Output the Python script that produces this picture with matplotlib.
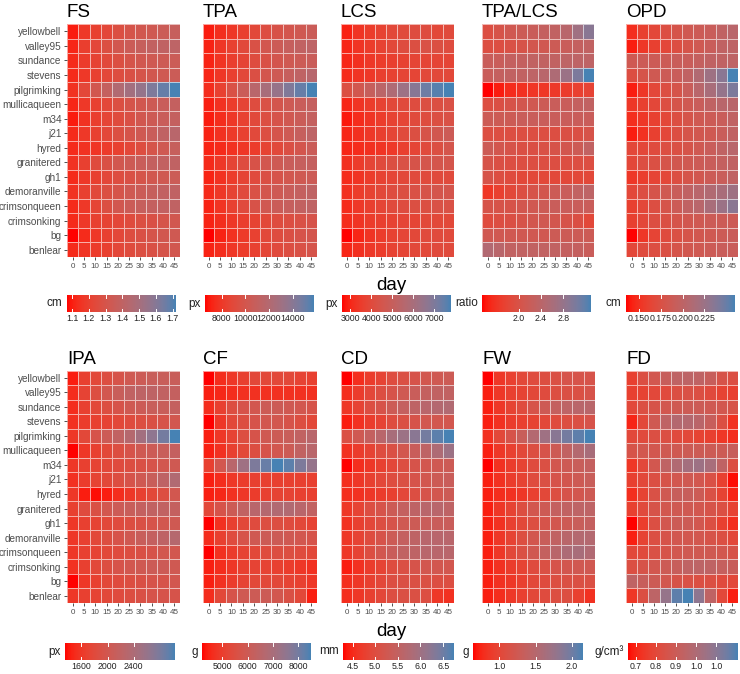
import numpy as np
import matplotlib
matplotlib.use("Agg")
import matplotlib.pyplot as plt
from matplotlib.colors import ListedColormap, Normalize

plt.rcParams["font.family"] = ["Liberation Sans", "DejaVu Sans"]

cultivars = ["yellowbell", "valley95", "sundance", "stevens", "pilgrimking", "mullicaqueen",
             "m34", "j21", "hyred", "granitered", "gh1", "demoranville", "crimsonqueen",
             "crimsonking", "bg", "benlear"]
days = [0, 5, 10, 15, 20, 25, 30, 35, 40, 45]

# rows follow `cultivars`, columns follow `days`
fs = [
    [1.10, 1.17, 1.20, 1.23, 1.27, 1.30, 1.32, 1.33, 1.35, 1.37],
    [1.12, 1.19, 1.23, 1.27, 1.32, 1.35, 1.37, 1.39, 1.40, 1.41],
    [1.13, 1.18, 1.21, 1.24, 1.27, 1.30, 1.32, 1.33, 1.34, 1.35],
    [1.13, 1.17, 1.20, 1.23, 1.26, 1.28, 1.30, 1.32, 1.33, 1.35],
    [1.15, 1.23, 1.32, 1.38, 1.46, 1.51, 1.56, 1.62, 1.67, 1.72],
    [1.12, 1.17, 1.20, 1.23, 1.27, 1.30, 1.32, 1.34, 1.36, 1.38],
    [1.10, 1.15, 1.19, 1.22, 1.25, 1.28, 1.32, 1.34, 1.36, 1.38],
    [1.13, 1.17, 1.20, 1.23, 1.27, 1.30, 1.33, 1.36, 1.40, 1.43],
    [1.13, 1.15, 1.16, 1.18, 1.20, 1.23, 1.26, 1.30, 1.33, 1.37],
    [1.15, 1.20, 1.25, 1.28, 1.32, 1.34, 1.36, 1.38, 1.39, 1.40],
    [1.13, 1.17, 1.20, 1.23, 1.26, 1.28, 1.30, 1.32, 1.33, 1.35],
    [1.15, 1.20, 1.24, 1.27, 1.30, 1.33, 1.35, 1.37, 1.39, 1.40],
    [1.13, 1.17, 1.22, 1.27, 1.32, 1.35, 1.37, 1.38, 1.39, 1.40],
    [1.13, 1.17, 1.20, 1.21, 1.23, 1.25, 1.27, 1.28, 1.30, 1.32],
    [1.07, 1.13, 1.17, 1.20, 1.23, 1.26, 1.28, 1.30, 1.32, 1.33],
    [1.13, 1.16, 1.18, 1.20, 1.23, 1.25, 1.27, 1.28, 1.30, 1.32],
]
tpa = [
    [7000, 7600, 8000, 8400, 8900, 9300, 9700, 10000, 10300, 10600],
    [7200, 7900, 8500, 9000, 9600, 10100, 10500, 10900, 11200, 11400],
    [7200, 7800, 8300, 8700, 9200, 9600, 10000, 10300, 10500, 10700],
    [7300, 7900, 8400, 8900, 9500, 10000, 10400, 10900, 11300, 11800],
    [7500, 8500, 9600, 10600, 11700, 12600, 13400, 14300, 15100, 15800],
    [7100, 7700, 8200, 8700, 9200, 9600, 10000, 10400, 10700, 11000],
    [7000, 7500, 8000, 8500, 9000, 9400, 9800, 10200, 10600, 11000],
    [7200, 7700, 8100, 8500, 9000, 9400, 9900, 10400, 10900, 11400],
    [7200, 7400, 7700, 7900, 8200, 8600, 9000, 9500, 10000, 10600],
    [7400, 8000, 8700, 9200, 9700, 10100, 10400, 10700, 10900, 11000],
    [7200, 7700, 8200, 8700, 9100, 9500, 9800, 10100, 10300, 10500],
    [7400, 8000, 8600, 9100, 9600, 10000, 10400, 10700, 11000, 11300],
    [7200, 7800, 8500, 9100, 9700, 10200, 10600, 10900, 11100, 11300],
    [7200, 7600, 8000, 8300, 8600, 8900, 9200, 9400, 9600, 9800],
    [6600, 7200, 7700, 8100, 8500, 8900, 9200, 9500, 9800, 10000],
    [7200, 7500, 7900, 8200, 8500, 8800, 9100, 9400, 9600, 9900],
]
lcs = [
    [2900, 3300, 3500, 3700, 3900, 4000, 4100, 4100, 3900, 4000],
    [3000, 3300, 3500, 3700, 3900, 4100, 4200, 4300, 4200, 4100],
    [3000, 3200, 3400, 3500, 3600, 3700, 3800, 3800, 3800, 3800],
    [3100, 3300, 3400, 3600, 3700, 3800, 3800, 3900, 3900, 3900],
    [4200, 4600, 5000, 5400, 5800, 6300, 6800, 7300, 7600, 7800],
    [3000, 3300, 3500, 3700, 3900, 4000, 4100, 4200, 4200, 4300],
    [2800, 3100, 3300, 3500, 3700, 3800, 4000, 4100, 4200, 4300],
    [3000, 3200, 3400, 3600, 3800, 4000, 4200, 4400, 4600, 4800],
    [3000, 3100, 3200, 3300, 3400, 3600, 3800, 4000, 4200, 4500],
    [3200, 3500, 3800, 4000, 4200, 4300, 4400, 4500, 4500, 4500],
    [3100, 3300, 3500, 3700, 3800, 3900, 4000, 4000, 4000, 4000],
    [3200, 3500, 3700, 3900, 4100, 4200, 4300, 4400, 4500, 4500],
    [3100, 3400, 3600, 3800, 4000, 4100, 4200, 4200, 4300, 4300],
    [3100, 3300, 3500, 3600, 3700, 3800, 3800, 3900, 3900, 3900],
    [2600, 3000, 3300, 3500, 3700, 3800, 3900, 4000, 4000, 4000],
    [3000, 3200, 3400, 3500, 3700, 3800, 3900, 3900, 4000, 4000],
]
tpa_lcs = [
    [1.93, 2.02, 2.12, 2.16, 2.22, 2.28, 2.32, 2.42, 2.71, 2.91],
    [1.93, 1.93, 1.98, 2.02, 2.08, 2.12, 2.16, 2.22, 2.28, 2.32],
    [2.22, 2.22, 2.28, 2.28, 2.32, 2.32, 2.32, 2.36, 2.36, 2.36],
    [2.22, 2.28, 2.32, 2.32, 2.36, 2.42, 2.55, 2.75, 3.01, 3.30],
    [1.34, 1.43, 1.53, 1.57, 1.61, 1.63, 1.65, 1.69, 1.73, 1.77],
    [1.93, 1.96, 2.02, 2.08, 2.12, 2.16, 2.22, 2.22, 2.28, 2.32],
    [2.16, 2.16, 2.16, 2.22, 2.22, 2.22, 2.22, 2.22, 2.22, 2.22],
    [1.93, 1.93, 1.93, 1.93, 1.93, 1.93, 1.93, 1.96, 1.96, 2.02],
    [2.16, 2.08, 2.02, 1.96, 1.96, 1.98, 2.02, 2.08, 2.16, 2.32],
    [2.02, 1.96, 1.93, 1.93, 1.93, 1.93, 1.93, 1.93, 1.93, 1.93],
    [2.02, 1.93, 1.89, 1.83, 1.83, 1.83, 1.83, 1.83, 1.83, 1.83],
    [1.63, 1.73, 1.83, 1.93, 2.02, 2.08, 2.16, 2.22, 2.32, 2.36],
    [2.02, 2.02, 2.02, 2.08, 2.12, 2.16, 2.22, 2.22, 2.22, 2.22],
    [1.89, 1.93, 1.96, 2.02, 2.08, 2.12, 2.08, 2.02, 1.96, 1.83],
    [2.12, 2.12, 2.12, 2.12, 2.12, 2.12, 2.16, 2.16, 2.16, 2.16],
    [2.51, 2.42, 2.32, 2.32, 2.32, 2.32, 2.32, 2.28, 2.28, 2.22],
]
opd = [
    [0.148, 0.160, 0.166, 0.173, 0.179, 0.185, 0.188, 0.191, 0.198, 0.204],
    [0.141, 0.154, 0.160, 0.166, 0.173, 0.179, 0.185, 0.191, 0.198, 0.200],
    [0.185, 0.188, 0.188, 0.188, 0.191, 0.191, 0.195, 0.198, 0.198, 0.200],
    [0.173, 0.179, 0.185, 0.188, 0.191, 0.198, 0.210, 0.223, 0.235, 0.260],
    [0.141, 0.154, 0.166, 0.173, 0.179, 0.191, 0.204, 0.216, 0.229, 0.241],
    [0.154, 0.160, 0.166, 0.173, 0.179, 0.185, 0.191, 0.198, 0.204, 0.204],
    [0.148, 0.154, 0.160, 0.166, 0.173, 0.179, 0.185, 0.188, 0.191, 0.198],
    [0.141, 0.150, 0.160, 0.166, 0.173, 0.179, 0.183, 0.185, 0.191, 0.198],
    [0.166, 0.166, 0.170, 0.173, 0.175, 0.179, 0.185, 0.191, 0.198, 0.204],
    [0.166, 0.173, 0.175, 0.179, 0.183, 0.185, 0.188, 0.191, 0.195, 0.198],
    [0.154, 0.158, 0.163, 0.166, 0.173, 0.179, 0.183, 0.188, 0.191, 0.198],
    [0.166, 0.173, 0.179, 0.185, 0.191, 0.198, 0.204, 0.210, 0.216, 0.223],
    [0.160, 0.166, 0.173, 0.179, 0.188, 0.198, 0.204, 0.216, 0.225, 0.235],
    [0.160, 0.166, 0.173, 0.175, 0.179, 0.183, 0.185, 0.188, 0.188, 0.188],
    [0.135, 0.154, 0.163, 0.170, 0.175, 0.179, 0.183, 0.185, 0.188, 0.191],
    [0.166, 0.170, 0.173, 0.175, 0.179, 0.183, 0.185, 0.188, 0.191, 0.191],
]
ipa = [
    [1430, 1690, 1770, 1850, 1940, 2020, 2060, 2110, 2110, 2110],
    [1520, 1720, 1850, 1990, 2110, 2190, 2220, 2220, 2190, 2160],
    [1520, 1690, 1770, 1850, 1940, 2020, 2060, 2110, 2110, 2160],
    [1550, 1650, 1690, 1720, 1770, 1820, 1850, 1890, 1940, 1990],
    [1600, 1770, 1940, 2060, 2190, 2320, 2490, 2660, 2830, 3030],
    [1350, 1600, 1690, 1770, 1850, 1940, 2020, 2060, 2110, 2160],
    [1600, 1690, 1720, 1770, 1820, 1850, 1890, 1940, 1990, 2020],
    [1550, 1650, 1720, 1770, 1850, 1940, 2020, 2110, 2220, 2360],
    [1600, 1430, 1380, 1430, 1520, 1600, 1690, 1770, 1850, 1990],
    [1690, 1820, 1890, 1990, 2060, 2110, 2160, 2190, 2190, 2160],
    [1600, 1690, 1720, 1770, 1820, 1850, 1890, 1940, 1990, 2020],
    [1600, 1690, 1770, 1850, 1940, 2020, 2110, 2160, 2220, 2320],
    [1600, 1690, 1720, 1770, 1820, 1850, 1890, 1940, 1990, 1990],
    [1550, 1690, 1770, 1850, 1940, 1990, 2020, 2060, 2060, 2020],
    [1350, 1600, 1690, 1770, 1820, 1850, 1890, 1940, 1940, 1990],
    [1600, 1690, 1720, 1770, 1820, 1850, 1890, 1940, 1940, 1940],
]
cf = [
    [4200, 4630, 4850, 5060, 5280, 5280, 5280, 5280, 5150, 5060],
    [4420, 4540, 4630, 4720, 4720, 4720, 4720, 4720, 4720, 4720],
    [4630, 5060, 5490, 5710, 5830, 6010, 6010, 5920, 5830, 5710],
    [4200, 4850, 5280, 5490, 5710, 5830, 5830, 5710, 5490, 5280],
    [4420, 4850, 5150, 5490, 5710, 5920, 6010, 6140, 6350, 6570],
    [4420, 4720, 5060, 5280, 5490, 5710, 5830, 6010, 6350, 6570],
    [5060, 5830, 6570, 7210, 7860, 8160, 8500, 8290, 7860, 7430],
    [4420, 4630, 4850, 4970, 5060, 5060, 5060, 5060, 5060, 5060],
    [4420, 4540, 4720, 4850, 4970, 5060, 5150, 5150, 5060, 5060],
    [5280, 5710, 6010, 6350, 6570, 6690, 6780, 6780, 6570, 6350],
    [4200, 4720, 5060, 5280, 5400, 5490, 5490, 5400, 5280, 5150],
    [4630, 5060, 5400, 5710, 5920, 6010, 6010, 5920, 5830, 5710],
    [4200, 4720, 4970, 5150, 5280, 5400, 5490, 5490, 5400, 5280],
    [4420, 4630, 4850, 5060, 5150, 5150, 5060, 4970, 4850, 4720],
    [4420, 4720, 4970, 5150, 5280, 5280, 5280, 5150, 5060, 4850],
    [4630, 5280, 5710, 5920, 6010, 6010, 5830, 5580, 5280, 4420],
]
cd = [
    [4.29, 4.54, 4.73, 4.83, 4.98, 5.07, 5.15, 5.22, 5.27, 5.32],
    [4.54, 4.73, 4.90, 5.03, 5.15, 5.27, 5.39, 5.47, 5.52, 5.52],
    [4.66, 4.83, 5.03, 5.15, 5.32, 5.47, 5.56, 5.64, 5.71, 5.76],
    [4.41, 4.58, 4.73, 4.83, 4.98, 5.07, 5.15, 5.22, 5.22, 5.22],
    [5.07, 5.27, 5.47, 5.64, 5.88, 6.05, 6.25, 6.45, 6.62, 6.74],
    [4.58, 4.73, 4.83, 4.98, 5.07, 5.22, 5.39, 5.56, 5.81, 6.05],
    [4.29, 4.54, 4.66, 4.78, 4.90, 5.03, 5.15, 5.22, 5.27, 5.32],
    [4.54, 4.66, 4.78, 4.90, 4.98, 5.07, 5.15, 5.22, 5.32, 5.39],
    [4.54, 4.58, 4.66, 4.73, 4.78, 4.90, 5.03, 5.15, 5.22, 5.32],
    [4.66, 4.83, 5.03, 5.15, 5.32, 5.47, 5.56, 5.64, 5.64, 5.56],
    [4.58, 4.78, 4.90, 5.03, 5.15, 5.27, 5.32, 5.39, 5.39, 5.39],
    [4.66, 4.83, 4.98, 5.15, 5.32, 5.47, 5.56, 5.64, 5.64, 5.64],
    [4.66, 4.83, 5.03, 5.22, 5.39, 5.52, 5.56, 5.64, 5.64, 5.64],
    [4.41, 4.58, 4.73, 4.83, 4.98, 5.07, 5.15, 5.22, 5.22, 5.22],
    [4.54, 4.66, 4.78, 4.90, 5.03, 5.07, 5.07, 5.07, 5.03, 5.03],
    [4.54, 4.66, 4.78, 4.90, 5.03, 5.07, 5.07, 5.03, 4.66, 4.58],
]
fw = [
    [0.64, 0.87, 0.94, 1.02, 1.06, 1.09, 1.12, 1.17, 1.17, 1.17],
    [0.72, 0.87, 0.94, 0.97, 1.02, 1.06, 1.09, 1.12, 1.12, 1.17],
    [0.72, 0.87, 0.97, 1.06, 1.17, 1.27, 1.36, 1.43, 1.47, 1.47],
    [0.72, 0.82, 0.91, 0.94, 0.97, 1.02, 1.06, 1.09, 1.12, 1.17],
    [0.82, 1.02, 1.17, 1.32, 1.52, 1.70, 1.85, 1.97, 2.07, 2.15],
    [0.72, 0.87, 0.94, 1.02, 1.09, 1.17, 1.27, 1.40, 1.52, 1.62],
    [0.64, 0.82, 0.91, 0.97, 1.06, 1.12, 1.21, 1.27, 1.32, 1.36],
    [0.72, 0.82, 0.91, 0.97, 1.06, 1.12, 1.17, 1.21, 1.27, 1.32],
    [0.72, 0.79, 0.82, 0.87, 0.94, 1.02, 1.09, 1.17, 1.21, 1.27],
    [0.72, 0.87, 0.97, 1.09, 1.21, 1.27, 1.36, 1.40, 1.43, 1.43],
    [0.72, 0.82, 0.94, 1.02, 1.09, 1.17, 1.21, 1.27, 1.32, 1.36],
    [0.72, 0.87, 0.97, 1.09, 1.21, 1.32, 1.40, 1.47, 1.52, 1.52],
    [0.72, 0.87, 1.02, 1.12, 1.24, 1.36, 1.47, 1.58, 1.62, 1.55],
    [0.72, 0.82, 0.91, 0.97, 1.06, 1.12, 1.17, 1.21, 1.24, 1.24],
    [0.72, 0.82, 0.87, 0.94, 1.02, 1.06, 1.09, 1.12, 1.12, 1.12],
    [0.72, 0.79, 0.87, 0.94, 1.02, 1.06, 1.09, 1.09, 0.94, 0.82],
]
fd = [
    [0.77, 0.83, 0.87, 0.91, 0.94, 0.95, 0.94, 0.91, 0.85, 0.83],
    [0.77, 0.78, 0.80, 0.81, 0.83, 0.84, 0.83, 0.81, 0.78, 0.77],
    [0.80, 0.83, 0.85, 0.87, 0.88, 0.89, 0.89, 0.88, 0.87, 0.85],
    [0.70, 0.80, 0.88, 0.94, 0.98, 0.98, 0.96, 0.91, 0.83, 0.73],
    [0.80, 0.81, 0.83, 0.83, 0.81, 0.80, 0.78, 0.77, 0.74, 0.72],
    [0.85, 0.87, 0.87, 0.88, 0.88, 0.89, 0.89, 0.89, 0.89, 0.91],
    [0.74, 0.80, 0.87, 0.94, 0.99, 1.03, 1.05, 1.02, 0.94, 0.83],
    [0.77, 0.80, 0.83, 0.85, 0.87, 0.88, 0.87, 0.84, 0.77, 0.67],
    [0.72, 0.78, 0.84, 0.88, 0.91, 0.91, 0.89, 0.84, 0.78, 0.70],
    [0.77, 0.81, 0.85, 0.87, 0.88, 0.88, 0.87, 0.85, 0.83, 0.78],
    [0.66, 0.76, 0.83, 0.87, 0.89, 0.89, 0.87, 0.83, 0.77, 0.72],
    [0.69, 0.78, 0.83, 0.85, 0.87, 0.87, 0.87, 0.85, 0.83, 0.80],
    [0.80, 0.81, 0.84, 0.85, 0.87, 0.88, 0.88, 0.88, 0.87, 0.85],
    [0.83, 0.85, 0.87, 0.89, 0.91, 0.94, 0.95, 0.94, 0.92, 0.91],
    [0.94, 0.91, 0.89, 0.87, 0.85, 0.84, 0.83, 0.83, 0.81, 0.80],
    [0.74, 0.83, 0.95, 1.07, 1.18, 1.21, 1.09, 0.94, 0.80, 0.69],
]

titles = ["FS", "TPA", "LCS", "TPA/LCS", "OPD", "IPA", "CF", "CD", "FW", "FD"]
units = ["cm", "px", "px", "ratio", "cm", "px", "g", "mm", "g", "g/cm³"]
bar_ticks = [
    [1.1, 1.2, 1.3, 1.4, 1.5, 1.6, 1.7],
    [8000, 10000, 12000, 14000],
    [3000, 4000, 5000, 6000, 7000],
    [2.0, 2.4, 2.8],
    [0.150, 0.175, 0.200, 0.225],
    [1600, 2000, 2400],
    [5000, 6000, 7000, 8000],
    [4.5, 5.0, 5.5, 6.0, 6.5],
    [1.0, 1.5, 2.0],
    [0.7, 0.8, 0.9, 1.0, 1.1],
]
bar_labels = [
    ["1.1", "1.2", "1.3", "1.4", "1.5", "1.6", "1.7"],
    ["8000", "10000", "12000", "14000"],
    ["3000", "4000", "5000", "6000", "7000"],
    ["2.0", "2.4", "2.8"],
    ["0.150", "0.175", "0.200", "0.225"],
    ["1600", "2000", "2400"],
    ["5000", "6000", "7000", "8000"],
    ["4.5", "5.0", "5.5", "6.0", "6.5"],
    ["1.0", "1.5", "2.0"],
    ["0.7", "0.8", "0.9", "1.0", "1.0"],
]
matrices = [fs, tpa, lcs, tpa_lcs, opd, ipa, cf, cd, fw, fd]


def srgb_to_lab(c):
    c = np.asarray(c, dtype=float)
    lin = np.where(c <= 0.04045, c / 12.92, ((c + 0.055) / 1.055) ** 2.4)
    m = np.array([[0.4124, 0.3576, 0.1805], [0.2126, 0.7152, 0.0722], [0.0193, 0.1192, 0.9505]])
    xyz = m @ lin / np.array([0.95047, 1.0, 1.08883])
    f = np.where(xyz > 0.008856, np.cbrt(xyz), 7.787 * xyz + 16 / 116)
    return np.array([116 * f[1] - 16, 500 * (f[0] - f[1]), 200 * (f[1] - f[2])])


def lab_to_srgb(lab):
    fy = (lab[0] + 16) / 116
    f = np.array([fy + lab[1] / 500, fy, fy - lab[2] / 200])
    xyz = np.where(f ** 3 > 0.008856, f ** 3, (f - 16 / 116) / 7.787) * np.array([0.95047, 1.0, 1.08883])
    m = np.array([[3.2406, -1.5372, -0.4986], [-0.9689, 1.8758, 0.0415], [0.0557, -0.2040, 1.0570]])
    lin = np.clip(m @ xyz, 0, 1)
    return np.where(lin <= 0.0031308, 12.92 * lin, 1.055 * lin ** (1 / 2.4) - 0.055)


# ggplot-like red -> steelblue gradient, interpolated in Lab
lo_lab = srgb_to_lab([1.0, 0.0, 0.0])
hi_lab = srgb_to_lab([70 / 255, 130 / 255, 180 / 255])
cmap = ListedColormap([lab_to_srgb(lo_lab + t * (hi_lab - lo_lab)) for t in np.linspace(0, 1, 256)])

W, H = 740, 674
fig = plt.figure(figsize=(W / 100, H / 100), dpi=100)


def px_axes(x0, x1, y0, y1):
    return fig.add_axes([x0 / W, 1 - y1 / H, (x1 - x0) / W, (y1 - y0) / H])


panel_x = [(67, 180), (203, 317), (341, 454), (482, 594), (626, 738),
           (67, 180), (203, 317), (341, 454), (482, 595), (626, 738)]
bar_x = [(67, 176), (205, 314), (342, 451), (482, 591), (626, 735),
         (65, 175), (202, 311), (343, 454), (473, 583), (628, 738)]
row_y = [(24, 257), (370.5, 603)]
bar_y = [(295, 312), (643, 660)]

x_edges = np.append(np.array(days) - 2.5, days[-1] + 2.5)
y_edges = np.arange(len(cultivars) + 1) - 0.5
grey = "#4D4D4D"

for i, (title, mat) in enumerate(zip(titles, matrices)):
    r = i // 5
    vals = np.array(mat, dtype=float)
    norm = Normalize(vals.min(), vals.max())
    ax = px_axes(panel_x[i][0], panel_x[i][1], row_y[r][0], row_y[r][1])
    mesh = ax.pcolormesh(x_edges, y_edges, vals, cmap=cmap, norm=norm,
                         edgecolors=(1, 1, 1, 0.6), linewidth=0.6)
    ax.set_xlim(x_edges[0], x_edges[-1])
    ax.set_ylim(y_edges[-1], y_edges[0])
    for s in ax.spines.values():
        s.set_visible(False)
    ax.set_xticks(days)
    ax.set_xticklabels([str(d) for d in days], fontsize=5.8, color=grey)
    if i % 5 == 0:
        ax.set_yticks(range(len(cultivars)))
        ax.set_yticklabels(cultivars, fontsize=7.2, color=grey)
    else:
        ax.set_yticks([])
    ax.tick_params(length=2.5, width=0.6, color="#333333", pad=1.5)
    fig.text(panel_x[i][0] / W, 1 - (row_y[r][0] - 7) / H, title, fontsize=13.5,
             ha="left", va="baseline")

    cax = px_axes(bar_x[i][0], bar_x[i][1], bar_y[r][0], bar_y[r][1])
    cb = fig.colorbar(mesh, cax=cax, orientation="horizontal")
    cb.outline.set_visible(False)
    cb.set_ticks(bar_ticks[i])
    cb.set_ticklabels(bar_labels[i])
    cax.tick_params(length=0, labelsize=6.3, pad=1.5, colors="#222222")
    for t in bar_ticks[i]:
        cax.plot([t, t], [0, 0.2], color="white", lw=0.7)
        cax.plot([t, t], [0.8, 1], color="white", lw=0.7)
    cax.text(-0.04, 0.5, units[i], transform=cax.transAxes, ha="right", va="center",
             fontsize=8.5, color="#222222")

fig.text(391 / W, 1 - 285 / H, "day", fontsize=13.5, ha="center", va="center")
fig.text(391 / W, 1 - 631 / H, "day", fontsize=13.5, ha="center", va="center")

fig.savefig("out.png", dpi=100)
